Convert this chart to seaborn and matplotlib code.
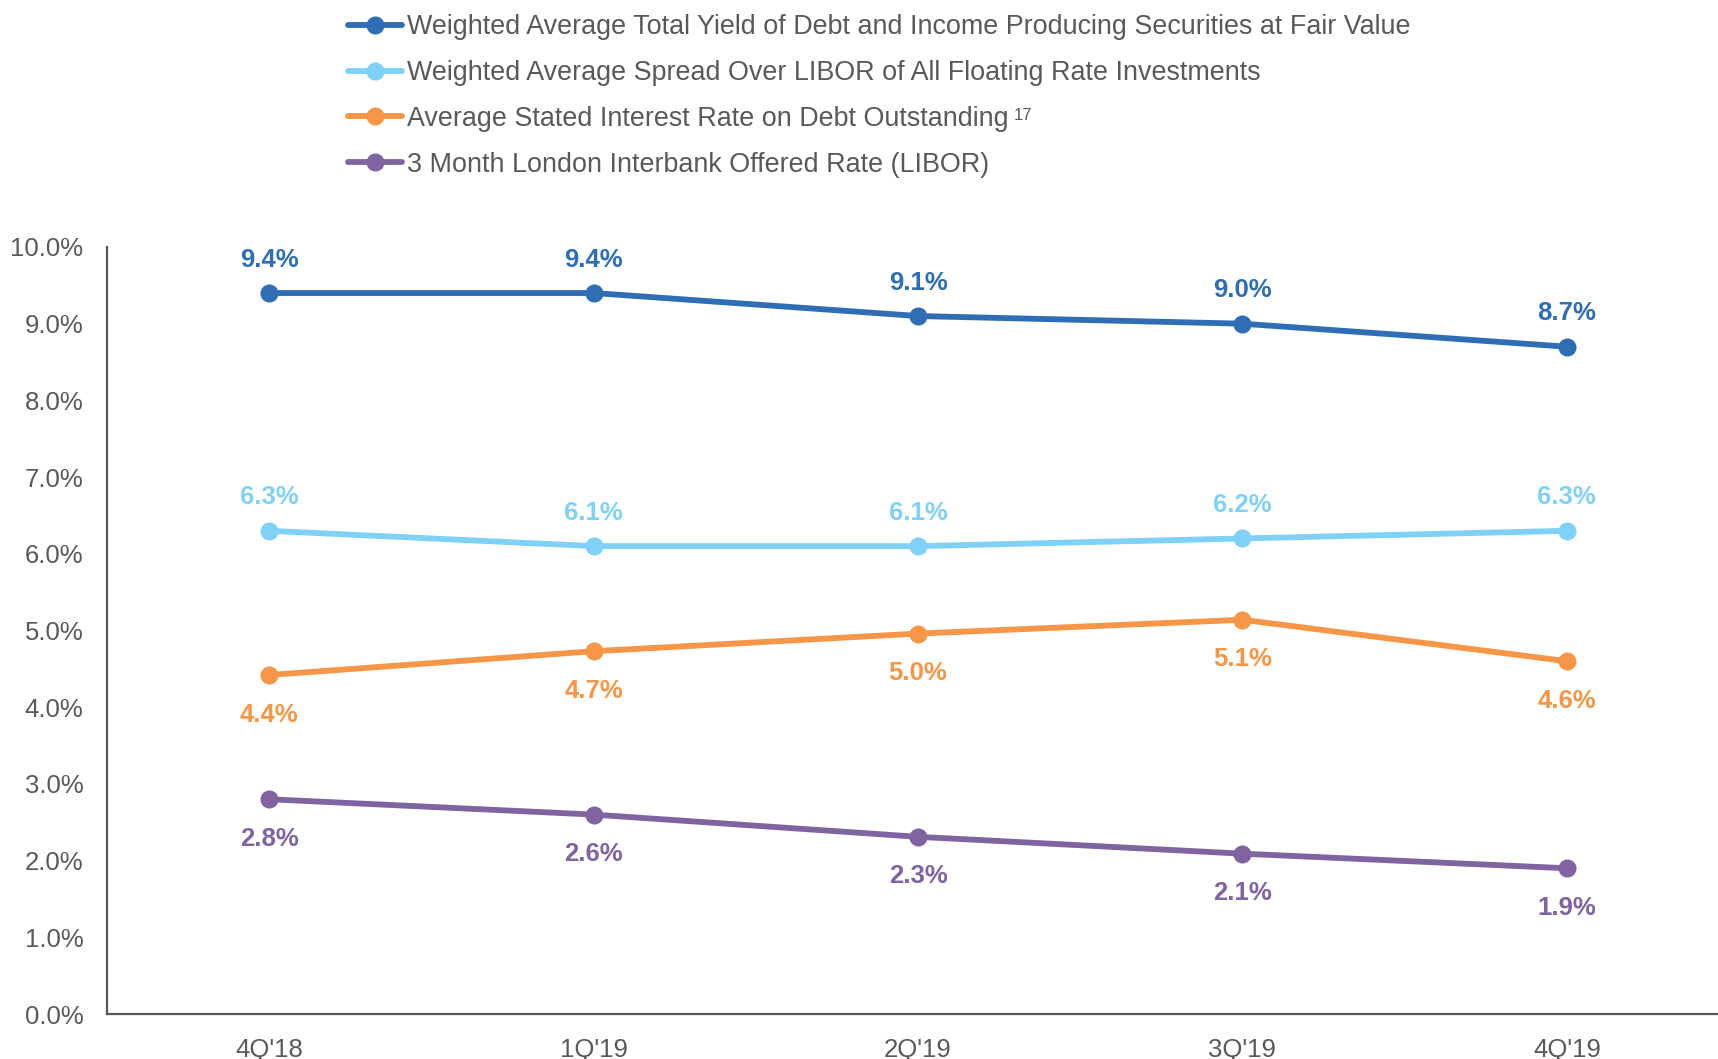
import matplotlib
matplotlib.use("Agg")
import matplotlib.pyplot as plt
import seaborn as sns
import pandas as pd

quarters = ["4Q'18", "1Q'19", "2Q'19", "3Q'19", "4Q'19"]
total_yield = [9.4, 9.4, 9.1, 9.0, 8.7]
spread_libor = [6.3, 6.1, 6.1, 6.2, 6.3]
stated_rate = [4.42, 4.73, 4.96, 5.14, 4.6]
libor_3m = [2.8, 2.6, 2.31, 2.09, 1.9]
y_ticks = [0, 1, 2, 3, 4, 5, 6, 7, 8, 9, 10]

series_names = [
    "Weighted Average Total Yield of Debt and Income Producing Securities at Fair Value",
    "Weighted Average Spread Over LIBOR of All Floating Rate Investments",
    "Average Stated Interest Rate on Debt Outstanding",
    "3 Month London Interbank Offered Rate (LIBOR)",
]
footnote = "17"
series_values = [total_yield, spread_libor, stated_rate, libor_3m]
colors = ["#2F6DB5", "#7FD1F7", "#F79646", "#8064A2"]
label_above = [True, True, False, False]

sns.set_theme(style="white")
plt.rcParams["font.family"] = ["Liberation Sans", "DejaVu Sans"]

rows = []
for name, vals in zip(series_names, series_values):
    for i, v in enumerate(vals):
        rows.append({"series": name, "idx": i, "value": v})
df = pd.DataFrame(rows)

fig = plt.figure(figsize=(17.18, 10.59), dpi=100)
ax = fig.add_axes([107 / 1718, 1 - 1014 / 1059, 1 - 107 / 1718, (1014 - 247) / 1059])

sns.lineplot(data=df, x="idx", y="value", hue="series", hue_order=series_names,
             palette=colors, marker="o", markersize=13, markeredgewidth=0,
             linewidth=4.2, sort=False, ax=ax)

gray = "#595959"
for name, vals, c, above in zip(series_names, series_values, colors, label_above):
    for i, v in enumerate(vals):
        ax.annotate(f"{v:.1f}%", (i, v), xytext=(0, 24 if above else -28.5),
                    textcoords="offset points", ha="center", va="center",
                    fontsize=18.5, fontweight="bold", color=c)

ax.set_xlim(-0.5, 4.466)
ax.set_ylim(0, 10)
ax.set_xticks(range(len(quarters)))
ax.set_xticklabels(quarters)
ax.set_yticks(y_ticks)
ax.set_yticklabels([f"{t:.1f}%" for t in y_ticks])
ax.tick_params(axis="x", length=0, pad=17, labelsize=18.5, labelcolor=gray)
ax.tick_params(axis="y", length=0, pad=17, labelsize=18.5, labelcolor=gray)
ax.set_xlabel("")
ax.set_ylabel("")
for s in ["top", "right"]:
    ax.spines[s].set_visible(False)
for s in ["left", "bottom"]:
    ax.spines[s].set_color(gray)
    ax.spines[s].set_linewidth(1.6)
ax.grid(False)

handles, labels = ax.get_legend_handles_labels()
leg = ax.legend(handles, labels, loc="upper left", bbox_to_anchor=(348 / 1718, 1 - 14 / 1059),
                bbox_transform=fig.transFigure, frameon=False, fontsize=19.4,
                handlelength=2.0, handletextpad=0.18, labelspacing=0.74,
                borderpad=0, borderaxespad=0, labelcolor=gray)

fig.canvas.draw()
renderer = fig.canvas.get_renderer()
t = leg.get_texts()[2]
bb = t.get_window_extent(renderer).transformed(fig.transFigure.inverted())
fig.text(bb.x1 + 5 / 1718, bb.y1 - 2 / 1059, footnote, fontsize=12, color=gray,
         ha="left", va="top")

fig.savefig("out.png", dpi=100)
